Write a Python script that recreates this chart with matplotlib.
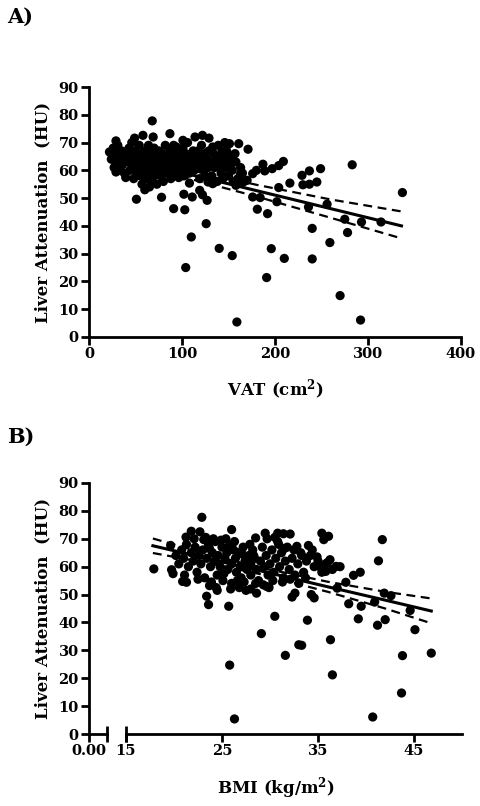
import matplotlib
matplotlib.use("Agg")
import matplotlib.pyplot as plt
from matplotlib.ticker import FixedLocator

# ---------------- Panel A data: VAT (cm^2) vs liver attenuation (HU) -------------
vat_a = [
    # dense cluster
    24, 26, 27, 28, 30, 31, 32, 33, 35, 36, 37, 38, 40,
    42, 43, 44, 45, 46, 47, 48, 49, 50, 51, 52, 53, 54, 55,
    56, 57, 58, 59, 60, 60, 61, 62, 63, 64, 64, 65, 66, 67, 68, 69, 70, 70,
    71, 72, 73, 74, 75, 76, 77, 78, 79, 80, 81, 82, 83, 84,
    86, 87, 88, 89, 90, 91, 92, 93, 95, 96, 97, 98, 99,
    100, 101, 102, 103, 104, 105, 106, 107, 108, 110, 111, 112, 113, 114,
    116, 117, 118, 119, 120, 121, 122, 123, 124, 125, 127, 128, 129,
    131, 132, 134, 135, 137, 138, 139, 140, 142, 143, 144,
    146, 147, 148, 150, 151, 152, 154, 155, 157, 158, 160, 163, 165,
    # sparser points
    337, 283, 249, 237, 229, 245, 230, 237, 216, 209, 204, 197, 204, 202,
    187, 189, 180, 176, 176, 184, 181, 192, 236, 256, 275, 293, 314, 278,
    240, 259, 240, 210, 196, 191, 270, 292, 159, 154, 140, 110, 104, 126,
    103, 91, 78, 51, 102, 111, 108, 96.5, 127, 122, 119, 128, 133, 158,
    166, 170, 163, 171, 161, 151, 146, 87, 68, 58, 69, 49, 29, 39.5, 22,
    29, 29, 114, 122, 129, 101, 94, 144, 153, 142, 133,
]
hu_a = [
    64, 68, 61, 66, 63, 69, 60, 65, 67, 62, 64, 59, 66,
    63, 68, 60, 65, 70, 62, 57, 67, 64, 59, 61, 66, 69, 58,
    63, 55, 65, 60, 67, 53, 62, 57, 64, 69, 59, 54, 66, 61, 56, 63, 68, 58,
    65, 60, 55, 62, 67, 64, 58, 61, 66, 56, 63, 69, 59, 65,
    61, 67, 57, 64, 62, 69, 59, 65, 61, 67, 63, 60, 65,
    62, 68, 58, 64, 66, 61, 70, 63, 59, 65, 62, 67, 60, 64,
    61, 67, 63, 57, 65, 69, 62, 60, 66, 58, 64, 61, 67,
    63, 58, 66, 61, 64, 56, 69, 62, 59, 67, 57,
    64, 61, 67, 58, 65, 62, 60, 56, 66, 63, 57, 61, 59,
    52, 62, 60.6, 59.8, 58.2, 55.8, 54.8, 55, 55.4, 63.2, 61.7, 60.6, 53.8, 48.7,
    62.2, 59.8, 60, 58.8, 50.4, 50.2, 46, 44.4, 46.8, 47.8, 42.4, 41.4, 41.4, 37.6,
    39.1, 34, 28.1, 28.3, 31.8, 21.4, 14.9, 6.1, 5.4, 29.3, 31.9, 36, 25, 40.8,
    45.8, 46.2, 50.3, 49.6, 51.4, 50.4, 55.4, 57.4, 49.2, 51.2, 52.8, 55.8, 55.2, 54.6,
    55.8, 56.4, 58.8, 67.6, 69.6, 69.6, 70, 73.2, 77.8, 72.6, 72, 71.6, 70.6, 57.4, 66.6,
    62.4, 59.4, 72, 72.6, 71.6, 70.8, 68.4, 62.4, 63, 65.4, 68.4,
]

# regression line and 95% confidence band
fit_vat = [22, 100, 180, 260, 336]
fit_hu_a = [65.5, 59.2, 52.7, 46.2, 40.0]
upper_a = [67.5, 60.7, 54.8, 49.5, 45.2]
lower_a = [63.5, 57.7, 50.6, 42.9, 35.5]

# ---------------- Panel B data: BMI (kg/m^2) vs liver attenuation (HU) -----------
bmi_b = [
    20.2, 20.5, 20.8, 21.0, 21.3, 21.5, 21.8, 22.0,
    22.2, 22.4, 22.6, 22.8, 23.0, 23.2, 23.4, 23.6, 23.8, 24.0,
    24.2, 24.3, 24.5, 24.6, 24.8, 25.0, 25.1, 25.3, 25.5, 25.6, 25.8, 26.0, 26.0,
    26.2, 26.4, 26.5, 26.7, 26.9, 27.0, 27.2, 27.4, 27.6, 27.8, 28.0, 28.0,
    28.2, 28.4, 28.6, 28.8, 29.0, 29.2, 29.4, 29.6, 29.8, 30.0,
    30.2, 30.4, 30.6, 30.8, 31.0, 31.2, 31.4, 31.6, 31.8, 32.0,
    32.3, 32.6, 32.9, 33.2, 33.5, 33.8,
    34.2, 34.6, 35.0, 35.4, 35.8,
    22.1, 23.3, 24.1, 24.9, 25.4, 26.3, 27.1, 28.3, 25.2, 26.6, 27.3, 28.5, 29.3,
    30.3, 31.3, 32.1, 33.0, 33.7, 21.1, 22.5, 23.9, 24.4, 25.9, 26.8, 27.5, 29.9,
    30.9, 31.5, 32.5, 33.3, 34.4, 34.9, 35.2, 36.5, 37.3, 36.0, 22.7, 23.7, 25.7,
    27.9, 29.7, 30.5,
    # sparser points
    17.9, 19.65, 19.75, 19.9, 20.9, 21.3, 21.8, 22.9, 21.25, 23.1, 23.4, 23.6, 23.7,
    24.5, 25.7, 25.8, 26.3, 26.0, 28.0, 28.6, 29.1, 29.65, 29.5, 28.5, 30.5, 30.8,
    31.4, 32.1, 31.6, 32.3, 32.6, 33.0, 33.3, 32.8, 34.0, 33.9, 34.3, 34.6, 35.4,
    35.6, 36.1, 35.8, 36.25, 36.9, 37.0, 36.3, 36.5, 37.9, 38.2, 38.7, 39.4, 39.5,
    39.2, 40.9, 41.3, 41.7, 41.2, 42.0, 41.9, 42.6, 44.6, 45.1, 43.8, 43.7, 40.7, 46.8,
]
hu_b = [
    64, 61, 66, 63, 68, 60, 65, 62,
    67, 58, 64, 61, 66, 56, 63, 68, 60, 65,
    62, 69, 57, 64, 60, 67, 55, 63, 65, 59, 68, 61, 54,
    66, 63, 58, 65, 60, 56, 67, 62, 59, 64, 57, 61,
    66, 63, 59, 55, 62, 67, 60, 64, 57, 61,
    66, 58, 63, 69, 60, 65, 56, 62, 67, 59,
    63, 57, 61, 65, 58, 62,
    64, 60, 62, 58, 61,
    70, 70.5, 70, 69.5, 70, 69, 64.5, 64, 57.5, 55, 54.5, 54, 53.5,
    55, 54.5, 55.5, 54, 56, 57, 55.5, 54.5, 52.5, 52, 52.5, 51.5, 52.5,
    68, 66.5, 66, 64, 66, 63.5, 60, 59, 60, 61.5, 72.5, 66.5, 66.5,
    68, 70, 70.5,
    59.2, 67.6, 58.9, 57.5, 54.7, 54.4, 72.7, 77.7, 70.6, 69.7, 49.4, 46.4, 53.2,
    51.5, 45.8, 24.7, 5.4, 73.3, 52, 50.5, 36, 52.9, 72, 70.3, 42.2, 72,
    71.8, 71.7, 28.2, 49.1, 50.5, 32, 31.8, 67.3, 67.6, 40.8, 50, 48.8, 72,
    69.7, 70.9, 58.3, 62.5, 60.1, 52.3, 33.8, 21.2, 54.4, 46.7, 56.9, 58, 45.8,
    41.3, 47.3, 62.1, 69.7, 39, 41, 50.5, 49.6, 44.3, 37.4, 28.1, 14.7, 6.1, 29,
]

fit_bmi = [17.8, 24, 29, 36, 42, 46.8]
fit_hu_b = [67.5, 62.5, 58.5, 52.8, 48.0, 44.1]
upper_b = [70.1, 64.0, 59.7, 54.6, 51.0, 48.6]
lower_b = [64.9, 61.0, 57.3, 51.0, 45.0, 39.7]

y_ticks = [0, 10, 20, 30, 40, 50, 60, 70, 80, 90]
a_xticks = [0, 100, 200, 300, 400]
b_xticks = [15, 25, 35, 45]

# ---------------- styling ----------------
FONT = "DejaVu Serif"
plt.rcParams["font.family"] = FONT
plt.rcParams["font.weight"] = "bold"
plt.rcParams["mathtext.fontset"] = "dejavuserif"
TICK_FS = 10.5
LABEL_FS = 12
LW = 2.0
MS = 44

fig = plt.figure(figsize=(4.81, 8.06), dpi=100)
W, H = 481.0, 806.0


def px_axes(x0, x1, ytop, ybot):
    return fig.add_axes([x0 / W, 1 - ybot / H, (x1 - x0) / W, (ybot - ytop) / H])


def style(ax, left=True):
    for s in ["top", "right"]:
        ax.spines[s].set_visible(False)
    ax.spines["bottom"].set_linewidth(LW)
    ax.spines["left"].set_linewidth(LW)
    if not left:
        ax.spines["left"].set_visible(False)
        ax.tick_params(axis="y", left=False, labelleft=False)
    ax.tick_params(axis="both", which="major", direction="out", length=6, width=LW,
                   labelsize=TICK_FS, pad=1.5)
    for lab in ax.get_xticklabels() + ax.get_yticklabels():
        lab.set_fontweight("bold")


# ---------------- Panel A ----------------
axA = px_axes(89, 461, 87, 337)
axA.plot(fit_vat, fit_hu_a, color="black", lw=2.2, zorder=2)
axA.plot(fit_vat, upper_a, color="black", lw=1.6, ls=(0, (4, 2.5)), zorder=2)
axA.plot(fit_vat, lower_a, color="black", lw=1.6, ls=(0, (4, 2.5)), zorder=2)
axA.scatter(vat_a, hu_a, s=MS, color="black", edgecolors="none", zorder=3)
axA.set_xlim(0, 400)
axA.set_ylim(0, 90)
axA.set_xticks(a_xticks)
axA.set_yticks(y_ticks)
style(axA)
axA.set_xlabel(r"VAT (cm$^{\mathbf{2}}$)", fontsize=LABEL_FS, fontweight="bold")
axA.xaxis.set_label_coords(0.5, -0.165)
axA.set_ylabel("Liver Attenuation  (HU)", fontsize=LABEL_FS, fontweight="bold")
axA.yaxis.set_label_coords(-0.1, 0.5)

# ---------------- Panel B (broken x axis) ----------------
axB0 = px_axes(89, 107, 483, 734)
axB0.set_xlim(0, 1)
axB0.set_ylim(0, 90)
axB0.set_xticks([0])
axB0.set_xticklabels(["0.00"])
axB0.set_yticks(y_ticks)
style(axB0)
axB0.xaxis.set_minor_locator(FixedLocator([1]))
axB0.tick_params(axis="x", which="minor", direction="inout", length=12, width=LW)
axB0.set_ylabel("Liver Attenuation  (HU)", fontsize=LABEL_FS, fontweight="bold")
axB0.yaxis.set_label_coords(-2.07, 0.5)

axB = px_axes(126, 462, 483, 734)
axB.patch.set_alpha(0)
axB.plot(fit_bmi, fit_hu_b, color="black", lw=2.2, zorder=2)
axB.plot(fit_bmi, upper_b, color="black", lw=1.6, ls=(0, (4, 2.5)), zorder=2)
axB.plot(fit_bmi, lower_b, color="black", lw=1.6, ls=(0, (4, 2.5)), zorder=2)
axB.scatter(bmi_b, hu_b, s=MS, color="black", edgecolors="none", zorder=3)
axB.set_xlim(15, 50)
axB.set_ylim(0, 90)
axB.set_xticks(b_xticks)
style(axB, left=False)
axB.xaxis.remove_overlapping_locs = False
axB.xaxis.set_minor_locator(FixedLocator([15]))
axB.tick_params(axis="x", which="minor", direction="inout", length=12, width=LW)
axB.set_xlabel(r"BMI (kg/m$^{\mathbf{2}}$)", fontsize=LABEL_FS, fontweight="bold")
axB.xaxis.set_label_coords(0.445, -0.165)

fig.text(7 / W, 1 - 17 / H, "A)", fontsize=15, fontweight="bold", va="center", ha="left")
fig.text(7 / W, 1 - 437 / H, "B)", fontsize=15, fontweight="bold", va="center", ha="left")

fig.savefig("out.png", dpi=100)
